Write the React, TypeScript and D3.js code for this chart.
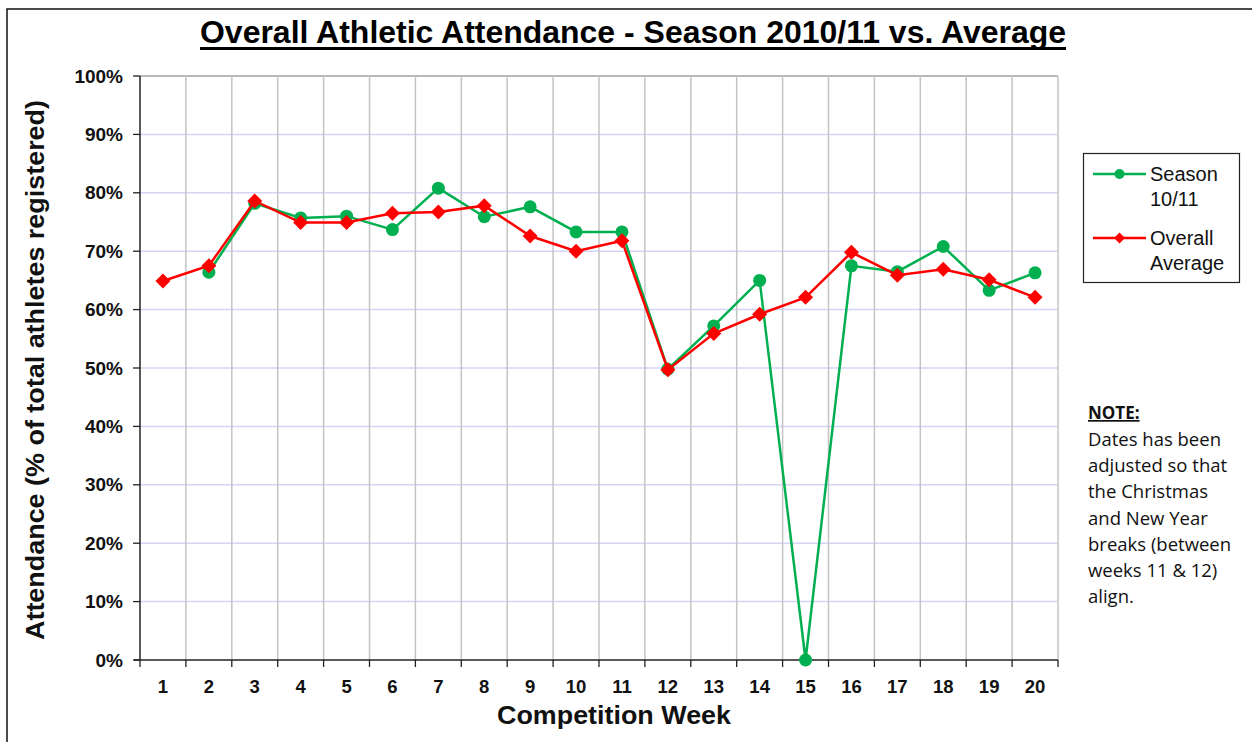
import React from "react";
import * as d3 from "d3";

const weeks: string[] = ["1","2","3","4","5","6","7","8","9","10","11","12","13","14","15","16","17","18","19","20"];
const season: (number | null)[] = [null, 66.4, 78.2, 75.7, 76.0, 73.7, 80.8, 75.9, 77.6, 73.3, 73.3, 49.8, 57.2, 65.0, 0, 67.5, 66.5, 70.8, 63.3, 66.3];
const average: number[] = [64.9, 67.5, 78.6, 74.9, 74.9, 76.5, 76.7, 77.8, 72.6, 70.0, 71.8, 49.7, 55.9, 59.2, 62.1, 69.8, 65.9, 66.9, 65.1, 62.1];
const yTicks: number[] = [0, 10, 20, 30, 40, 50, 60, 70, 80, 90, 100];
const noteLines: string[] = ["Dates has been", "adjusted so that", "the Christmas", "and New Year", "breaks (between", "weeks 11 & 12)", "align."];

const W = 1252, H = 742;
const left = 140, right = 1058, top = 76, bottom = 660;

export default function App() {
  const x = d3.scaleBand<string>().domain(weeks).range([left, right]).padding(0);
  const y = d3.scaleLinear().domain([0, 100]).range([bottom, top]);
  const cx = (w: string) => (x(w) as number) + x.bandwidth() / 2;

  const line = d3.line<[string, number | null]>()
    .defined(d => d[1] !== null)
    .x(d => cx(d[0]))
    .y(d => y(d[1] as number));

  const seasonPts = weeks.map((w, i) => [w, season[i]] as [string, number | null]);
  const avgPts = weeks.map((w, i) => [w, average[i]] as [string, number | null]);
  const boundaries = weeks.map(w => x(w) as number).concat([right]);
  const font = "Arial, 'Liberation Sans', sans-serif";
  const noteFont = "'Open Sans', 'Noto Sans', sans-serif";
  const dsz = 7.5;
  const diamond = (px: number, py: number) => `M${px},${py - dsz}L${px + dsz},${py}L${px},${py + dsz}L${px - dsz},${py}Z`;

  return (
    <svg width={W} height={H} style={{ position: "absolute", left: 0, top: 0, background: "#fff" }} fontFamily={font}>
      <rect x={0} y={0} width={W} height={H} fill="#fff" />
      <rect x={7} y={9} width={W + 20} height={H + 20} fill="none" stroke="#111" strokeWidth={1.5} />
      {/* title */}
      <text x={633} y={43} textAnchor="middle" fontSize={32} fontWeight="bold" textLength={866} lengthAdjust="spacingAndGlyphs">Overall Athletic Attendance  - Season 2010/11 vs. Average</text>
      <rect x={200} y={47} width={866} height={3} fill="#000" />
      {/* gridlines */}
      {yTicks.filter(t => t > 0).map(t => (
        <line key={"h" + t} x1={left} x2={right} y1={y(t)} y2={y(t)} stroke={t === 100 ? "#a0a0a0" : "#d4d4f6"} strokeWidth={1.5} />
      ))}
      {boundaries.slice(1).map((b, i) => (
        <line key={"v" + i} x1={b} x2={b} y1={top} y2={bottom} stroke="#c4c4c4" strokeWidth={1.5} />
      ))}
      {/* axes */}
      <line x1={left} x2={left} y1={top} y2={bottom} stroke="#222" strokeWidth={1.5} />
      <line x1={left - 6} x2={right} y1={bottom} y2={bottom} stroke="#222" strokeWidth={1.5} />
      {yTicks.map(t => (
        <g key={"yt" + t}>
          <line x1={left - 7} x2={left} y1={y(t)} y2={y(t)} stroke="#222" strokeWidth={1.3} />
          <text x={123} y={y(t) + 6.5} textAnchor="end" fontSize={19} fontWeight="bold" fill="#111">{t}%</text>
        </g>
      ))}
      {boundaries.map((b, i) => (
        <line key={"xt" + i} x1={b} x2={b} y1={bottom} y2={bottom + 7} stroke="#222" strokeWidth={1.3} />
      ))}
      {weeks.map(w => (
        <text key={"xl" + w} x={cx(w)} y={693} textAnchor="middle" fontSize={18.5} fontWeight="bold" fill="#111">{w}</text>
      ))}
      <text x={614} y={724} textAnchor="middle" fontSize={25} fontWeight="bold" fill="#111" textLength={234} lengthAdjust="spacingAndGlyphs">Competition Week</text>
      <text transform="translate(44,370) rotate(-90)" textAnchor="middle" fontSize={25} fontWeight="bold" fill="#111" textLength={540} lengthAdjust="spacingAndGlyphs">Attendance (% of total athletes registered)</text>
      {/* series */}
      <path d={line(seasonPts) || ""} fill="none" stroke="#00b050" strokeWidth={2.5} />
      {seasonPts.filter(d => d[1] !== null).map(d => (
        <circle key={"s" + d[0]} cx={cx(d[0])} cy={y(d[1] as number)} r={6.5} fill="#00b050" />
      ))}
      <path d={line(avgPts) || ""} fill="none" stroke="#ff0000" strokeWidth={2.5} />
      {avgPts.map(d => (
        <path key={"a" + d[0]} d={diamond(cx(d[0]), y(d[1] as number))} fill="#ff0000" />
      ))}
      {/* legend */}
      <rect x={1083.5} y={153.5} width={156} height={129} fill="#fff" stroke="#222" strokeWidth={1.2} />
      <line x1={1093} x2={1146} y1={174} y2={174} stroke="#00b050" strokeWidth={2.5} />
      <circle cx={1119.5} cy={174} r={5} fill="#00b050" />
      <text x={1150} y={181} fontSize={20} fill="#111">Season</text>
      <text x={1150} y={206} fontSize={20} fill="#111">10/11</text>
      <line x1={1093} x2={1146} y1={238} y2={238} stroke="#ff0000" strokeWidth={2.5} />
      <path d={`M1119.5,232.5L1125,238L1119.5,243.5L1114,238Z`} fill="#ff0000" />
      <text x={1150} y={245} fontSize={20} fill="#111">Overall</text>
      <text x={1150} y={270} fontSize={20} fill="#111">Average</text>
      {/* note */}
      <text x={1088} y={419} fontSize={17} fontWeight="bold" fill="#111" fontFamily={noteFont} textDecoration="underline">NOTE:</text>
      {noteLines.map((l, i) => (
        <text key={"n" + i} x={1088} y={446 + i * 26.2} fontSize={18.5} fill="#111" fontFamily={noteFont}>{l}</text>
      ))}
    </svg>
  );
}
